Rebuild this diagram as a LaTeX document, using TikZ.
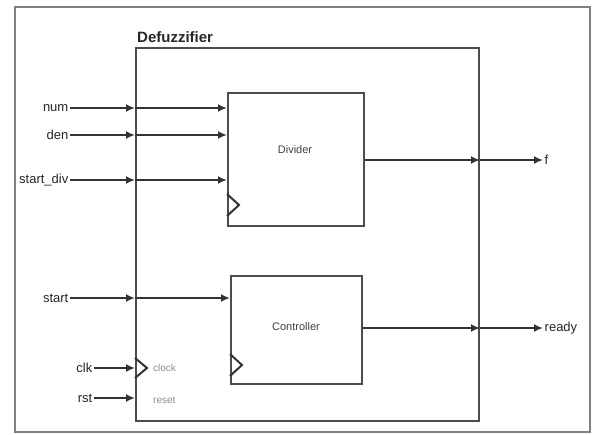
\documentclass[tikz,border=0pt]{standalone}
\usepackage{fontspec}
\setmainfont{Liberation Sans}
\usetikzlibrary{arrows.meta}
\begin{document}
\begin{tikzpicture}[x=1pt,y=-1pt,
  wire/.style={draw=black!80, line width=2pt},
  sig/.style={wire, -{Latex[length=9pt,width=8pt]}},
  port/.style={font=\fontsize{13}{13}\selectfont, inner sep=1.5pt, text=black!85},
  blk/.style={draw=black!70, line width=2pt, anchor=north west, inner sep=0pt},
  lbl/.style={font=\fontsize{11}{11}\selectfont, text=black!75},
  pin/.style={font=\fontsize{10}{10}\selectfont, text=black!45, anchor=west, inner sep=0pt},
  ]
\useasboundingbox (0,0) rectangle (592,434);
\node[draw=black!50, line width=2pt, anchor=north west, inner sep=0pt,
      minimum width=575pt, minimum height=425pt] (frame) at (14,6) {};
% blocks
\node[blk, minimum width=343pt, minimum height=373pt] (defz) at (135,47) {};
\node[font=\bfseries\fontsize{15}{15}\selectfont, anchor=south west, inner sep=0pt, text=black!85] (title) at (137,43) {Defuzzifier};
\node[blk, minimum width=136pt, minimum height=133pt] (div) at (227,92) {};
\node[lbl] (divlbl) at (295,150) {Divider};
\node[blk, minimum width=131pt, minimum height=108pt] (ctl) at (230,275) {};
\node[lbl] (ctllbl) at (296,327) {Controller};
% clock triangles
\draw[wire] (div.south west) ++(0,-33) -- ++(12,11) -- ++(-12,11);
\draw[wire] (ctl.south west) ++(0,-31) -- ++(12,11) -- ++(-12,11);
\draw[wire] (defz.west |- 0,358) -- (147,368) -- (defz.west |- 0,378);
\node[pin] (clocklbl) at (153,368) {clock};
\node[pin] (resetlbl) at (153,400) {reset};
% inputs
\node[port, anchor=east] (num) at (70,108) {num};
\node[port, anchor=east] (den) at (70,135) {den};
\node[port, anchor=east] (sdiv) at (70,180) {start\_div};
\node[port, anchor=east] (start) at (70,298) {start};
\node[port, anchor=east] (clk) at (94,368) {clk};
\node[port, anchor=east] (rst) at (94,398) {rst};
\foreach \p in {num,den,sdiv}{
  \draw[sig] (\p.east) -- (defz.west |- \p.east);
  \draw[sig] (defz.west |- \p.east) -- (div.west |- \p.east);
}
\draw[sig] (start.east) -- (defz.west |- start.east);
\draw[sig] (defz.west |- start.east) -- (ctl.west |- start.east);
\draw[sig] (clk.east) -- (defz.west |- clk.east);
\draw[sig] (rst.east) -- (defz.west |- rst.east);
% outputs
\node[port, anchor=west] (f) at (543,160) {f};
\node[port, anchor=west] (ready) at (543,328) {ready};
\draw[sig] (div.east |- f.west) -- (defz.east |- f.west);
\draw[sig] (defz.east |- f.west) -- (f.west);
\draw[sig] (ctl.east |- ready.west) -- (defz.east |- ready.west);
\draw[sig] (defz.east |- ready.west) -- (ready.west);
\end{tikzpicture}
\end{document}
